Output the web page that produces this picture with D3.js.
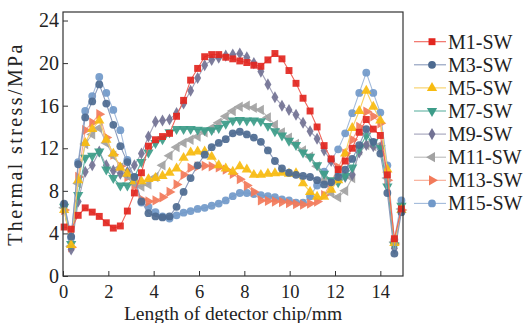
<!DOCTYPE html>
<html>
<head>
<meta charset="utf-8">
<script src="https://cdn.jsdelivr.net/npm/d3@7"></script>
<style>
  body { margin: 0; background: #fff; }
  svg text { font-family: "Liberation Serif", "Times New Roman", serif; fill: #222; }
</style>
</head>
<body>
<div id="chart"></div>
<script>
// length along the detector chip (mm)
const xs = [0.05, 0.36, 0.67, 0.98, 1.29, 1.60, 1.91, 2.22, 2.53, 2.84,
            3.15, 3.46, 3.77, 4.08, 4.39, 4.70, 5.01, 5.32, 5.63, 5.94,
            6.25, 6.56, 6.87, 7.18, 7.49, 7.80, 8.11, 8.42, 8.73, 9.04,
            9.35, 9.66, 9.97, 10.28, 10.59, 10.90, 11.21, 11.52, 11.83, 12.14,
            12.45, 12.76, 13.07, 13.38, 13.69, 14.00, 14.31, 14.62, 14.93];

const seriesNames = ['M1-SW', 'M3-SW', 'M5-SW', 'M7-SW', 'M9-SW', 'M11-SW', 'M13-SW', 'M15-SW'];

const m1 = [4.6, 4.4, 5.7, 6.4, 6.0, 5.6, 5.0, 4.5, 4.7, 6.1,
            7.8, 9.7, 12.2, 12.8, 13.1, 13.4, 15.0, 16.5, 18.4, 19.5,
            20.6, 20.8, 20.8, 20.55, 20.4, 20.2, 20.05, 19.8, 19.7, 20.3,
            20.9, 20.4, 19.3, 18.1, 16.7, 15.5, 14.0, 12.25, 11.0, 10.0,
            10.8, 12.0, 13.5, 14.7, 13.8, 13.2, 9.5, 3.5, 6.3];
const m3 = [6.8, 3.7, 10.5, 14.9, 16.4, 18.0, 16.2, 14.2, 12.2, 10.7,
            9.3, 7.0, 5.9, 5.6, 5.5, 5.6, 6.5, 7.9, 9.2, 10.4,
            11.4, 12.1, 12.5, 12.85, 13.4, 13.55, 13.3, 13.0, 12.6, 11.8,
            10.8, 10.1, 9.7, 9.5, 9.4, 9.3, 9.0, 8.6, 8.8, 9.3,
            10.0, 11.0, 12.3, 13.8, 12.6, 11.5, 7.8, 2.1, 6.0];
const m5 = [6.2, 2.9, 9.0, 12.5, 13.8, 14.6, 12.8, 11.5, 10.2, 9.6,
            8.9, 8.9, 9.1, 9.2, 9.4, 9.7, 10.1, 11.1, 11.6, 11.7,
            11.7, 11.2, 10.4, 10.1, 9.8, 10.3, 10.0, 9.5, 9.5, 9.6,
            9.65, 9.7, 9.6, 9.65, 8.7, 7.9, 7.45, 7.45, 8.1, 9.0,
            11.5, 13.9, 15.5, 17.4, 15.9, 14.6, 10.0, 3.1, 6.2];
const m7 = [6.5, 3.0, 7.6, 11.1, 11.3, 11.7, 10.0, 9.2, 8.5, 8.5,
            9.3, 10.7, 11.6, 12.5, 12.85, 13.5, 13.8, 13.8, 13.8, 13.75,
            13.7, 13.7, 13.9, 14.3, 14.6, 14.65, 14.6, 14.6, 14.55, 14.1,
            13.6, 13.2, 12.7, 12.3, 11.6, 11.2, 10.4, 9.6, 9.0, 8.8,
            9.4, 10.2, 12.0, 13.2, 12.6, 12.0, 8.4, 2.9, 6.6];
const m9 = [6.5, 2.5, 7.0, 9.8, 10.4, 11.7, 10.4, 9.9, 9.6, 9.8,
            10.4, 11.5, 13.1, 14.5, 14.6, 14.7, 15.3, 16.2, 17.4, 18.6,
            19.8, 20.3, 20.5, 20.7, 20.8, 20.9, 20.55, 20.0, 19.2, 18.0,
            16.8, 16.0, 15.6, 15.15, 14.4, 13.6, 12.9, 11.8, 10.8, 9.6,
            9.3, 9.5, 11.6, 12.3, 12.2, 12.0, 8.5, 2.6, 6.4];
const m11 = [6.4, 2.8, 8.7, 12.4, 13.3, 13.9, 12.5, 11.3, 10.2, 9.4,
             8.7, 8.4, 8.6, 9.3, 10.4, 11.3, 12.1, 12.5, 12.8, 13.1,
             13.5, 13.9, 14.4, 15.0, 15.5, 15.9, 16.0, 15.8, 15.6, 14.9,
             14.2, 13.5, 13.0, 12.4, 11.8, 11.2, 10.3, 9.0, 7.8, 7.4,
             8.0, 9.2, 11.8, 12.3, 12.2, 12.3, 9.2, 3.2, 6.3];
const m13 = [6.2, 2.7, 9.3, 13.7, 14.4, 15.2, 13.0, 11.4, 10.3, 9.3,
             8.5, 7.2, 7.0, 7.1, 7.4, 7.9, 8.6, 9.5, 10.15, 10.3,
             10.35, 10.3, 10.2, 10.0, 9.6, 9.1, 8.5, 7.9, 7.1, 7.05,
             7.0, 6.95, 6.85, 6.75, 6.7, 6.8, 7.0, 7.6, 8.8, 10.2,
             11.5, 12.8, 14.0, 15.45, 15.0, 14.35, 9.0, 3.0, 6.2];
const m15 = [6.7, 3.6, 10.7, 15.5, 16.9, 18.7, 17.2, 15.6, 13.7, 10.9,
             8.8, 6.9, 6.5, 6.0, 5.6, 5.4, 5.7, 5.95, 6.1, 6.3,
             6.4, 6.6, 6.8, 7.1, 7.5, 7.8, 7.8, 7.7, 7.6, 7.5,
             7.4, 7.2, 7.1, 6.9, 6.9, 7.5, 8.5, 9.8, 10.9, 11.9,
             13.4, 15.3, 17.2, 19.1, 17.2, 15.35, 10.4, 3.4, 7.1];

const xTicks = [0, 2, 4, 6, 8, 10, 12, 14];
const yTicks = [0, 4, 8, 12, 16, 20, 24];

const values = [m1, m3, m5, m7, m9, m11, m13, m15];
const lineColors = ['#f0645a', '#8a9abb', '#f8d062', '#62b2a2', '#a2a2ba', '#bababa', '#f8a890', '#a2badb'];
const markColors = ['#e2261f', '#4d6a90', '#f7bb10', '#3d9c89', '#727294', '#a2a2a2', '#f27a5a', '#7199c9'];
const shapes = [
    { type: d3.symbolSquare, size: 48, rotate: 0 },
    { type: d3.symbolCircle, size: 48, rotate: 0 },
    { type: d3.symbolTriangle, size: 46, rotate: 0 },
    { type: d3.symbolTriangle, size: 46, rotate: 180 },
    { type: d3.symbolDiamond, size: 42, rotate: 0 },
    { type: d3.symbolTriangle, size: 46, rotate: -90 },
    { type: d3.symbolTriangle, size: 46, rotate: 90 },
    { type: d3.symbolCircle, size: 48, rotate: 0 }
];

const width = 523;
const height = 323;
const plotLeft = 63, plotRight = 403, plotTop = 12, plotBottom = 276;

const svg = d3.select('#chart')
    .append('svg')
    .attr('width', width)
    .attr('height', height);

const x = d3.scaleLinear().domain([0, 15]).range([plotLeft, plotRight]);
const y = d3.scaleLinear().domain([0, 24.8]).range([plotBottom, plotTop]);

// series, M15 first so M1 ends up on top
const line = d3.line().x((d, i) => x(xs[i])).y(d => y(d));
const order = d3.range(values.length).reverse();

order.forEach(k => {
    const g = svg.append('g');
    g.append('path')
        .datum(values[k])
        .attr('fill', 'none')
        .attr('stroke', lineColors[k])
        .attr('stroke-width', 1.1)
        .attr('d', line);
    const sym = d3.symbol().type(shapes[k].type).size(shapes[k].size);
    g.selectAll('path.mark')
        .data(values[k])
        .join('path')
        .attr('class', 'mark')
        .attr('fill', markColors[k])
        .attr('fill-opacity', 0.92)
        .attr('transform', (d, i) => `translate(${x(xs[i])},${y(d)}) rotate(${shapes[k].rotate})`)
        .attr('d', sym);
});

// frame
svg.append('rect')
    .attr('x', plotLeft).attr('y', plotTop)
    .attr('width', plotRight - plotLeft).attr('height', plotBottom - plotTop)
    .attr('fill', 'none')
    .attr('stroke', '#333')
    .attr('stroke-width', 1.2);

// axes with inward ticks
const xAxis = d3.axisBottom(x).tickValues(xTicks).tickSize(-5).tickPadding(9);
const yAxis = d3.axisLeft(y).tickValues(yTicks).tickSize(-5).tickPadding(4);

svg.append('g')
    .attr('transform', `translate(0,${plotBottom})`)
    .call(xAxis)
    .call(g => g.select('.domain').remove())
    .call(g => g.selectAll('.tick line').attr('stroke', '#333'))
    .call(g => g.selectAll('.tick text')
        .attr('font-family', '"Liberation Serif", serif')
        .attr('font-size', 18.5)
        .attr('fill', '#222'));

svg.append('g')
    .attr('transform', `translate(${plotLeft},0)`)
    .call(yAxis)
    .call(g => g.select('.domain').remove())
    .call(g => g.selectAll('.tick line').attr('stroke', '#333'))
    .call(g => g.selectAll('.tick text')
        .attr('font-family', '"Liberation Serif", serif')
        .attr('font-size', 20)
        .attr('fill', '#222'));

svg.append('text')
    .attr('x', (plotLeft + plotRight) / 2)
    .attr('y', 320)
    .attr('text-anchor', 'middle')
    .attr('font-size', 19.5)
    .text('Length of detector chip/mm');

svg.append('text')
    .attr('transform', `translate(22,${(plotTop + plotBottom) / 2}) rotate(-90)`)
    .attr('text-anchor', 'middle')
    .attr('font-size', 20)
    .attr('letter-spacing', 2.4)
    .text('Thermal stress/MPa');

// legend
const legend = svg.append('g');
seriesNames.forEach((name, k) => {
    const ly = 41.7 + k * 23.1;
    const row = legend.append('g');
    row.append('line')
        .attr('x1', 414).attr('x2', 446)
        .attr('y1', ly).attr('y2', ly)
        .attr('stroke', lineColors[k])
        .attr('stroke-width', 1.1);
    row.append('path')
        .attr('fill', markColors[k])
        .attr('transform', `translate(432,${ly}) rotate(${shapes[k].rotate})`)
        .attr('d', d3.symbol().type(shapes[k].type).size(shapes[k].size)());
    row.append('text')
        .attr('x', 448)
        .attr('y', ly)
        .attr('dy', '0.35em')
        .attr('font-size', 20)
        .text(name);
});
</script>
</body>
</html>
